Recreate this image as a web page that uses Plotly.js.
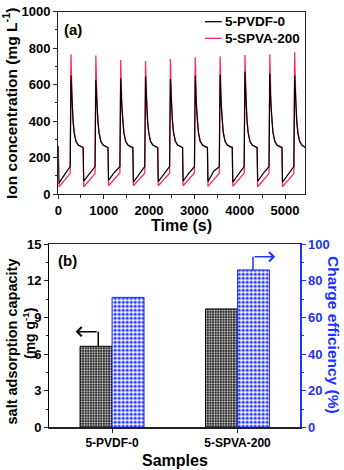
<!DOCTYPE html>
<html>
<head>
<meta charset="utf-8">
<script src="https://cdn.plot.ly/plotly-3.0.1.min.js"></script>
<style>
  html, body { margin: 0; padding: 0; background: #fff; }
  #chart { width: 344px; height: 470px; }
</style>
</head>
<body>
<div id="chart"></div>
<script>
// (a) ion concentration vs time
var time = [
  0,12,140,262,280,292,306,325,350,390,440,500,540,
  548,560,688,810,828,840,854,873,898,938,988,1048,1088,
  1096,1108,1236,1358,1376,1388,1402,1421,1446,1486,1536,1596,1636,
  1644,1656,1784,1906,1924,1936,1950,1969,1994,2034,2084,2144,2184,
  2192,2204,2332,2454,2472,2484,2498,2517,2542,2582,2632,2692,2732,
  2740,2752,2880,3002,3020,3032,3046,3065,3090,3130,3180,3240,3280,
  3288,3300,3428,3550,3568,3580,3594,3613,3638,3678,3728,3788,3828,
  3836,3848,3976,4098,4116,4128,4142,4161,4186,4226,4276,4336,4376,
  4384,4396,4524,4646,4664,4676,4690,4709,4734,4774,4824,4884,4924,
  4932,4944,5072,5194,5212,5224,5238,5257,5282,5322,5372,5440
];
var pvdf = [
  263,58,108,150,650,560,480,400,335,288,268,260,256,
  255,70,112,150,625,545,472,398,334,288,268,260,256,
  255,75,118,150,635,552,476,399,334,288,268,260,256,
  255,65,112,150,645,556,478,400,335,288,268,260,256,
  255,68,112,150,630,548,474,398,334,288,268,260,256,
  255,70,115,150,650,560,480,400,335,288,268,260,256,
  255,68,125,150,655,562,482,401,335,288,268,260,256,
  255,65,112,150,670,570,486,402,336,288,268,260,256,
  255,70,115,150,660,565,484,401,335,288,268,260,256,
  255,65,112,150,650,560,480,400,335,288,268,256
];
var spva = [
  263,40,76,112,765,612,500,410,340,290,268,260,256,
  255,40,76,112,760,608,498,408,340,290,268,260,256,
  255,45,80,115,735,592,490,405,338,290,268,260,256,
  255,45,80,114,730,588,488,404,338,290,268,260,256,
  255,45,80,114,740,595,492,406,339,290,268,260,256,
  255,45,80,115,750,600,495,408,340,290,268,260,256,
  255,42,78,114,755,604,496,408,340,290,268,260,256,
  255,42,78,114,762,610,500,410,340,290,268,260,256,
  255,40,76,112,765,612,500,410,340,290,268,260,256,
  255,40,76,112,778,620,505,412,342,291,268,256
];
var seriesNames = ['5-PVDF-0', '5-SPVA-200'];

// (b) bars
var samples = ['5-PVDF-0', '5-SPVA-200'];
var capacity = [6.64, 9.7];
var efficiency = [71, 86];

var W = 344, H = 470;
function fx(p) { return p / W; }
function fy(p) { return 1 - p / H; }

var RED = 'rgb(255,45,85)';
var BLUE = 'rgb(30,50,255)';
var FONT = 'Liberation Sans, Arial, sans-serif';

var data = [
  {x: time, y: spva, type: 'scatter', mode: 'lines', name: seriesNames[1],
   line: {color: RED, width: 1.3}, xaxis: 'x', yaxis: 'y'},
  {x: time, y: pvdf, type: 'scatter', mode: 'lines', name: seriesNames[0],
   line: {color: '#000', width: 1.2}, xaxis: 'x', yaxis: 'y'},
  {x: samples, y: capacity, type: 'bar', xaxis: 'x2', yaxis: 'y2',
   width: 0.255, offset: -0.255,
   marker: {color: '#fff', line: {color: '#000', width: 1},
            pattern: {shape: '.', fgcolor: '#fff', bgcolor: '#2a2a2a', size: 2.6, solidity: 0.3}}},
  {x: samples, y: efficiency, type: 'bar', xaxis: 'x2', yaxis: 'y3',
   width: 0.255, offset: 0,
   marker: {color: '#fff', line: {color: BLUE, width: 1},
            pattern: {shape: '.', fgcolor: BLUE, bgcolor: '#fff', size: 4, solidity: 0.5}}}
];

var tickf = {family: FONT, size: 13, color: '#000', weight: 'bold'};
var baseAxis = {showline: true, linecolor: '#222', linewidth: 1.2, ticks: 'outside',
  ticklen: 4, tickwidth: 1, tickcolor: '#222', showgrid: false, zeroline: false,
  tickfont: tickf};

function label(text, x, y, size, extra) {
  return Object.assign({text: '<b>' + text + '</b>', xref: 'paper', yref: 'paper',
    x: fx(x), y: fy(y), xanchor: 'center', yanchor: 'middle', showarrow: false,
    font: {size: size}}, extra || {});
}

var layout = {
  width: W, height: H,
  margin: {l: 0, r: 0, t: 0, b: 0},
  paper_bgcolor: '#fff', plot_bgcolor: '#fff',
  showlegend: false,
  font: {family: FONT, color: '#000'},
  xaxis: Object.assign({}, baseAxis, {domain: [fx(58.3), fx(305)], range: [0, 5440],
    dtick: 1000, tick0: 0, mirror: true, anchor: 'y',
    minor: {dtick: 500, ticks: 'outside', ticklen: 2.5, tickcolor: '#222'}}),
  yaxis: Object.assign({}, baseAxis, {domain: [fy(194), fy(11.7)], range: [0, 1000],
    dtick: 200, mirror: true, anchor: 'x',
    minor: {dtick: 100, ticks: 'outside', ticklen: 2.5, tickcolor: '#222'}}),
  xaxis2: Object.assign({}, baseAxis, {domain: [fx(49.3), fx(300.3)], type: 'category',
    range: [-0.5, 1.5], mirror: true, anchor: 'y2',
    tickfont: {family: FONT, size: 12, color: '#000', weight: 'bold'}}),
  yaxis2: Object.assign({}, baseAxis, {domain: [fy(427.3), fy(244.3)], range: [0, 15],
    dtick: 3, anchor: 'x2', linecolor: '#000',
    minor: {dtick: 1.5, ticks: 'outside', ticklen: 2.5, tickcolor: '#222'}}),
  yaxis3: Object.assign({}, baseAxis, {overlaying: 'y2', side: 'right', anchor: 'x2',
    range: [0, 100], dtick: 20, linecolor: BLUE, tickcolor: BLUE,
    tickfont: {family: FONT, size: 13, color: BLUE, weight: 'bold'},
    minor: {dtick: 10, ticks: 'outside', ticklen: 2.5, tickcolor: BLUE}}),
  shapes: [
    // manual legend samples
    {type: 'line', xref: 'paper', yref: 'paper', x0: fx(205), x1: fx(221.7),
     y0: fy(21.7), y1: fy(21.7), line: {color: '#000', width: 1.3}},
    {type: 'line', xref: 'paper', yref: 'paper', x0: fx(205), x1: fx(221.7),
     y0: fy(38.3), y1: fy(38.3), line: {color: RED, width: 1.3}},
    // stems of the axis-pointer arrows
    {type: 'line', xref: 'x2', yref: 'y2', x0: -0.11, x1: -0.11,
     y0: capacity[0], y1: 7.84, line: {color: '#000', width: 1.5}},
    {type: 'line', xref: 'x2', yref: 'y3', x0: 1.123, x1: 1.123,
     y0: efficiency[1], y1: 93.2, line: {color: BLUE, width: 1.5}}
  ],
  annotations: [
    label('(a)', 62, 29, 15, {xanchor: 'left'}),
    label('(b)', 56, 260, 15, {xanchor: 'left'}),
    label(seriesNames[0], 222.5, 21.7, 13.5, {xanchor: 'left'}),
    label(seriesNames[1], 222.5, 38.3, 13.5, {xanchor: 'left'}),
    label('Ion concentration (mg L<sup>-1</sup>)', 10, 104, 15.5, {textangle: -90}),
    label('Time (s)', 181, 225, 16),
    label('salt adsorption capacity', 11.5, 342, 14.5, {textangle: -90}),
    label('(mg g<sup>-1</sup>)', 29, 333, 14, {textangle: -90}),
    label('Charge efficiency (%)', 334, 335, 15.5, {textangle: 90, font: {size: 15.5, color: BLUE}}),
    label('Samples', 175, 460, 16),
    // arrow heads
    {text: '', xref: 'x2', yref: 'y2', axref: 'x2', ayref: 'y2',
     x: -0.29, y: 7.84, ax: -0.11, ay: 7.84, showarrow: true,
     arrowhead: 4, arrowsize: 1.2, arrowwidth: 1.5, arrowcolor: '#000', standoff: 0},
    {text: '', xref: 'x2', yref: 'y3', axref: 'x2', ayref: 'y3',
     x: 1.30, y: 93.2, ax: 1.123, ay: 93.2, showarrow: true,
     arrowhead: 4, arrowsize: 1.2, arrowwidth: 1.5, arrowcolor: BLUE, standoff: 0}
  ]
};

Plotly.newPlot('chart', data, layout, {displayModeBar: false, staticPlot: true});
</script>
</body>
</html>
